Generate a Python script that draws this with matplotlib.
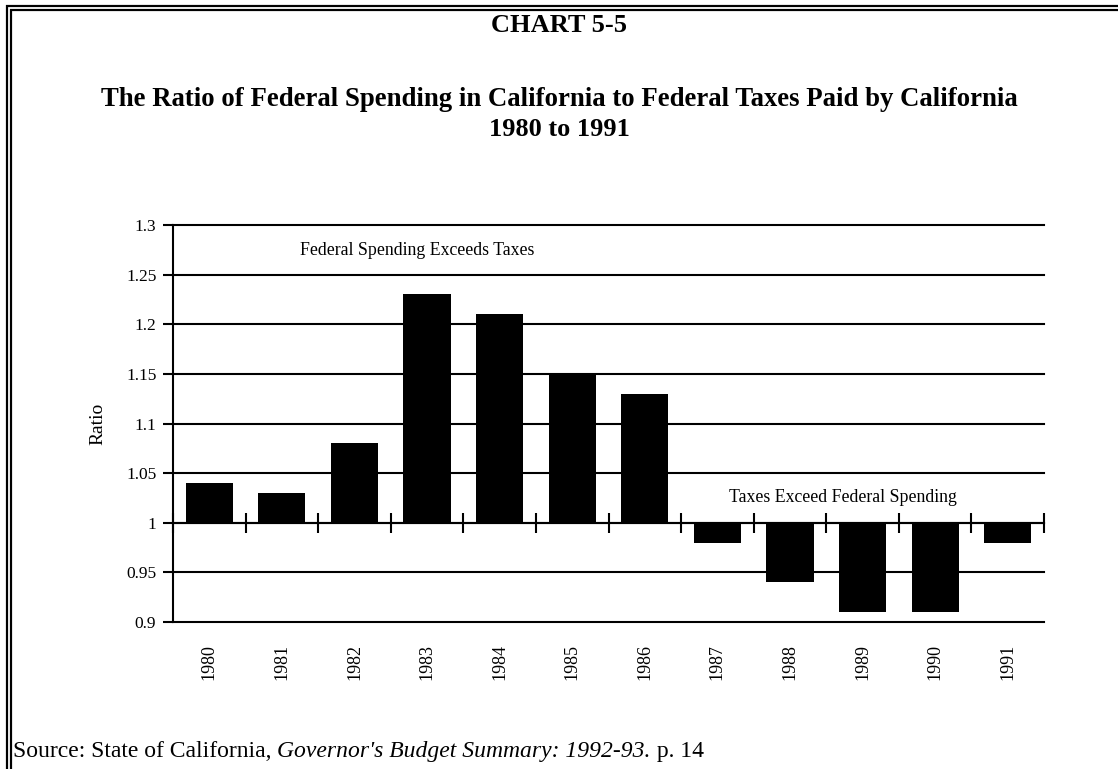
import matplotlib
matplotlib.use("Agg")
import matplotlib.pyplot as plt
from matplotlib.lines import Line2D
import numpy as np

years = ["1980", "1981", "1982", "1983", "1984", "1985",
         "1986", "1987", "1988", "1989", "1990", "1991"]
ratios = [1.04, 1.03, 1.08, 1.23, 1.21, 1.15, 1.13, 0.98, 0.94, 0.91, 0.91, 0.98]
y_ticks = [0.9, 0.95, 1.0, 1.05, 1.1, 1.15, 1.2, 1.25, 1.3]
y_tick_labels = ["0.9", "0.95", "1", "1.05", "1.1", "1.15", "1.2", "1.25", "1.3"]

plt.rcParams["font.family"] = ["Liberation Serif", "DejaVu Serif"]

W, H, DPI = 1118, 769, 100
fig = plt.figure(figsize=(W / DPI, H / DPI), dpi=DPI)
fig.patch.set_facecolor("white")

ax = fig.add_axes([173 / W, 1 - 622 / H, 871 / W, 397 / H])
x = np.arange(len(years))
base = 1.0
ax.bar(x, np.array(ratios) - base, bottom=base, width=0.65,
       color="black", zorder=3)

ax.set_xlim(-0.5, len(years) - 0.5)
ax.set_ylim(0.9, 1.3)

# horizontal grid
lw = 1.5
for yv in y_ticks:
    ax.axhline(yv, color="black", lw=lw, zorder=1, clip_on=False)

# y axis
ax.set_yticks(y_ticks, labels=y_tick_labels)
ax.tick_params(axis="y", direction="out", length=7, width=lw, labelsize=12.5,
               pad=5)
ax.spines["left"].set_linewidth(lw)
ax.spines["top"].set_visible(False)
ax.spines["right"].set_visible(False)

# category axis crossing at ratio 1
ax.spines["bottom"].set_position(("data", base))
ax.spines["bottom"].set_linewidth(lw)
ax.set_xticks(np.arange(len(years) + 1) - 0.5)
ax.set_xticklabels([])
ax.tick_params(axis="x", direction="inout", length=15, width=lw)

sec = ax.secondary_xaxis("bottom")
sec.set_xticks(x, labels=years, rotation=90)
sec.tick_params(length=0, labelsize=13, pad=16)
sec.spines["bottom"].set_visible(False)

ax.set_ylabel("Ratio", fontsize=14, labelpad=14)

ax.text(1.25, 1.2745, "Federal Spending Exceeds Taxes", fontsize=12.8,
        ha="left", va="center")
ax.text(7.16, 1.025, "Taxes Exceed Federal Spending", fontsize=12.8,
        ha="left", va="center")

# titles
fig.text(0.5, 1 - 26 / H, "CHART 5-5", ha="center", va="center",
         fontsize=19, fontweight="bold")
fig.text(0.5, 1 - 100 / H,
         "The Ratio of Federal Spending in California to Federal Taxes Paid by California",
         ha="center", va="center", fontsize=19.3, fontweight="bold")
fig.text(0.5, 1 - 129 / H, "1980 to 1991", ha="center", va="center",
         fontsize=19, fontweight="bold")

# source line
t1 = fig.text(13 / W, 1 - 757 / H, "Source: State of California, ",
              fontsize=17, ha="left", va="baseline")
t2 = fig.text(0, 0, "Governor's Budget Summary: 1992-93.", fontsize=17,
              style="italic", ha="left", va="bottom")
t3 = fig.text(0, 0, " p. 14", fontsize=17, ha="left", va="bottom")
fig.canvas.draw()
r = fig.canvas.get_renderer()
bb1 = t1.get_window_extent(r)
t2.set_position((bb1.x1 / W, bb1.y0 / H))
fig.canvas.draw()
bb2 = t2.get_window_extent(r)
t3.set_position((bb2.x1 / W, bb2.y0 / H))

# double frame on left and top
def px_line(xs, ys, width):
    fig.add_artist(Line2D([v / W for v in xs], [1 - v / H for v in ys],
                          color="black", lw=width * 72 / DPI,
                          solid_capstyle="butt", transform=fig.transFigure))

px_line([7, 7], [5, H], 2.2)
px_line([11, 11], [9, H], 2.2)
px_line([6, W], [6, 6], 2.2)
px_line([10, W], [10, 10], 2.2)

fig.savefig("out.png", dpi=DPI, facecolor="white")
